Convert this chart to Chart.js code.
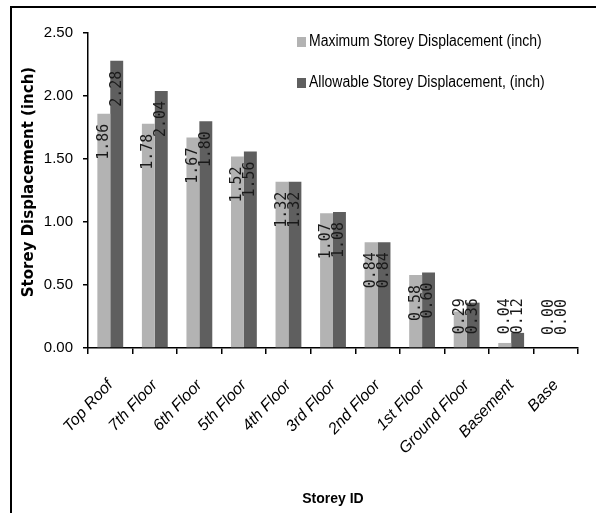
<!DOCTYPE html>
<html>
<head>
<meta charset="utf-8">
<script src="https://cdn.jsdelivr.net/npm/chart.js@4.4.1/dist/chart.umd.min.js"></script>
<style>
  html, body { margin: 0; padding: 0; background: #fff; }
  #wrap { position: relative; width: 596px; height: 513px; overflow: hidden; }
  #frame { position: absolute; left: 10px; top: 6px; width: 600px; height: 520px;
           border-top: 2px solid #000; border-left: 2px solid #000; pointer-events: none; }
  canvas { position: absolute; left: 0; top: 0; }
</style>
</head>
<body>
<div id="wrap">
  <canvas id="chart" width="596" height="513"></canvas>
  <div id="frame"></div>
</div>
<script>
const storeys = ['Top Roof', '7th Floor', '6th Floor', '5th Floor', '4th Floor', '3rd Floor',
                 '2nd Floor', '1st Floor', 'Ground Floor', 'Basement', 'Base'];
const maxDisplacement = [1.86, 1.78, 1.67, 1.52, 1.32, 1.07, 0.84, 0.58, 0.29, 0.04, 0.00];
const allowableDisplacement = [2.28, 2.04, 1.80, 1.56, 1.32, 1.08, 0.84, 0.60, 0.36, 0.12, 0.00];
const yTicks = [0, 0.5, 1.0, 1.5, 2.0, 2.5];
const yTitle = 'Storey Displacement (inch)';

const sans = '"Liberation Sans", Arial, sans-serif';

// value labels, rotated, just inside the end of each bar
const valueLabels = {
  id: 'valueLabels',
  afterDatasetsDraw(chart) {
    const ctx = chart.ctx;
    ctx.save();
    ctx.font = '15px "DejaVu Sans Mono", monospace';
    ctx.fillStyle = '#1a1a1a';
    ctx.textAlign = 'left';
    ctx.textBaseline = 'middle';
    chart.data.datasets.forEach((ds, i) => {
      chart.getDatasetMeta(i).data.forEach((bar, j) => {
        const text = ds.data[j].toFixed(2);
        const len = ctx.measureText(text).width;
        let start = bar.y + 10 + len;
        if (start > bar.base - 13) start = bar.base - 13;
        ctx.save();
        ctx.translate(bar.x, start);
        ctx.rotate(-Math.PI / 2);
        ctx.fillText(text, 0, 0);
        ctx.restore();
      });
    });
    ctx.restore();
  }
};

// legend inside the plot area (top right) and the vertical axis title
const extras = {
  id: 'extras',
  afterDraw(chart) {
    const ctx = chart.ctx;
    ctx.save();
    ctx.font = '16px ' + sans;
    ctx.textBaseline = 'middle';
    ctx.textAlign = 'left';
    chart.data.datasets.forEach((ds, i) => {
      const y = 42 + i * 41;
      ctx.fillStyle = ds.backgroundColor;
      ctx.fillRect(297, y - 5, 9, 10);
      ctx.fillStyle = '#000';
      ctx.save();
      ctx.translate(309, y);
      ctx.scale(0.875, 1);
      ctx.fillText(ds.label, 0, 0);
      ctx.restore();
    });

    ctx.font = 'bold 15px "DejaVu Sans", sans-serif';
    ctx.textAlign = 'center';
    ctx.translate(29, 182);
    ctx.rotate(-Math.PI / 2);
    ctx.fillText(yTitle, 0, 0);
    ctx.restore();
  }
};

new Chart(document.getElementById('chart').getContext('2d'), {
  type: 'bar',
  data: {
    labels: storeys,
    datasets: [
      {
        label: 'Maximum Storey Displacement (inch)',
        data: maxDisplacement,
        backgroundColor: '#b3b3b3',
        barPercentage: 1.0,
        categoryPercentage: 0.58
      },
      {
        label: 'Allowable Storey Displacement, (inch)',
        data: allowableDisplacement,
        backgroundColor: '#5f5f5f',
        barPercentage: 1.0,
        categoryPercentage: 0.58
      }
    ]
  },
  options: {
    responsive: false,
    animation: false,
    devicePixelRatio: 1,
    layout: { padding: { left: 0, right: 18, top: 33, bottom: 0 } },
    plugins: {
      legend: { display: false },
      tooltip: { enabled: false }
    },
    scales: {
      x: {
        grid: { drawOnChartArea: false, drawTicks: true, tickLength: 6, color: '#000', lineWidth: 1.5, offset: true },
        border: { color: '#000', width: 1.5 },
        ticks: {
          color: '#000',
          font: { family: sans, size: 16, style: 'italic' },
          minRotation: 47,
          maxRotation: 47,
          padding: 22,
          autoSkip: false
        },
        title: {
          display: true,
          text: 'Storey ID',
          color: '#000',
          font: { family: sans, size: 14, weight: 'bold' },
          padding: { top: 4, bottom: 5 }
        },
        afterFit(scale) { scale.height = 165; }
      },
      y: {
        min: 0,
        max: 2.5,
        afterBuildTicks(scale) { scale.ticks = yTicks.map(v => ({ value: v })); },
        grid: { drawOnChartArea: false, drawTicks: true, tickLength: 5, color: '#000', lineWidth: 1.5 },
        border: { color: '#000', width: 1.5 },
        ticks: {
          color: '#000',
          font: { family: sans, size: 15 },
          padding: 10,
          callback: v => Number(v).toFixed(2)
        },
        afterFit(scale) { scale.width = 88; }
      }
    }
  },
  plugins: [valueLabels, extras]
});
</script>
</body>
</html>
